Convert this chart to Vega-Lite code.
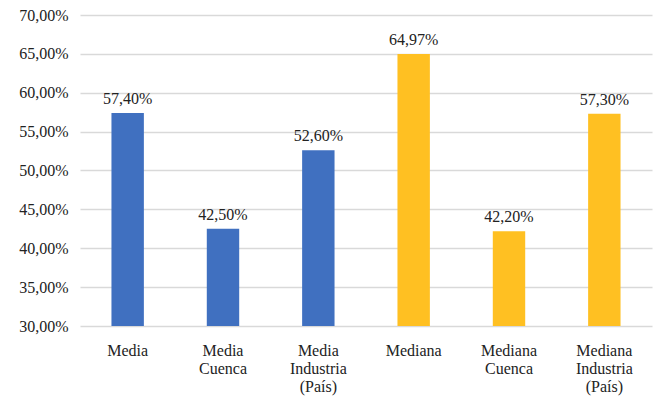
{
  "$schema": "https://vega.github.io/schema/vega-lite/v6.json",
  "width": 572,
  "height": 311,
  "autosize": "none",
  "padding": {"left": 80, "top": 15, "right": 8, "bottom": 72},
  "background": "white",
  "config": {
    "locale": {"number": {"decimal": ",", "thousands": ".", "grouping": [3], "currency": ["", " €"]}},
    "view": {"stroke": null},
    "font": "'Liberation Serif', 'DejaVu Serif', serif"
  },
  "data": {
    "values": [
      {"cat": "Media", "valor": 0.574, "grupo": "Media"},
      {"cat": "Media|Cuenca", "valor": 0.425, "grupo": "Media"},
      {"cat": "Media|Industria|(País)", "valor": 0.526, "grupo": "Media"},
      {"cat": "Mediana", "valor": 0.6497, "grupo": "Mediana"},
      {"cat": "Mediana|Cuenca", "valor": 0.422, "grupo": "Mediana"},
      {"cat": "Mediana|Industria|(País)", "valor": 0.573, "grupo": "Mediana"}
    ]
  },
  "encoding": {
    "x": {
      "field": "cat", "type": "nominal", "sort": null,
      "scale": {"paddingInner": 0.66, "paddingOuter": 0.33},
      "axis": {
        "title": null, "labelAngle": 0, "ticks": false, "domain": false,
        "labelExpr": "split(datum.value, '|')",
        "labelFont": "'Liberation Serif', 'DejaVu Serif', serif", "labelFontSize": 16, "labelColor": "#222222",
        "labelPadding": 16, "labelLineHeight": 18, "labelBaseline": "top"
      }
    },
    "y": {
      "field": "valor", "type": "quantitative",
      "scale": {"domain": [0.3, 0.7], "zero": false, "nice": false},
      "axis": {
        "title": null, "format": ".2%", "values": [0.3, 0.35, 0.4, 0.45, 0.5, 0.55, 0.6, 0.65, 0.7],
        "labelOverlap": false,
        "domain": false, "ticks": false, "gridColor": "#d9d9d9", "gridWidth": 1.3,
        "labelFont": "'Liberation Serif', 'DejaVu Serif', serif", "labelFontSize": 16, "labelColor": "#222222", "labelPadding": 12
      }
    }
  },
  "layer": [
    {
      "mark": {"type": "bar", "clip": true},
      "encoding": {
        "color": {
          "field": "grupo", "type": "nominal", "legend": null,
          "scale": {"domain": ["Media", "Mediana"], "range": ["#4070C0", "#FFC022"]}
        }
      }
    },
    {
      "mark": {"type": "text", "baseline": "bottom", "dy": -6, "font": "'Liberation Serif', 'DejaVu Serif', serif", "fontSize": 16, "color": "#222222"},
      "encoding": {
        "text": {"field": "valor", "type": "quantitative", "format": ".2%"}
      }
    }
  ]
}
